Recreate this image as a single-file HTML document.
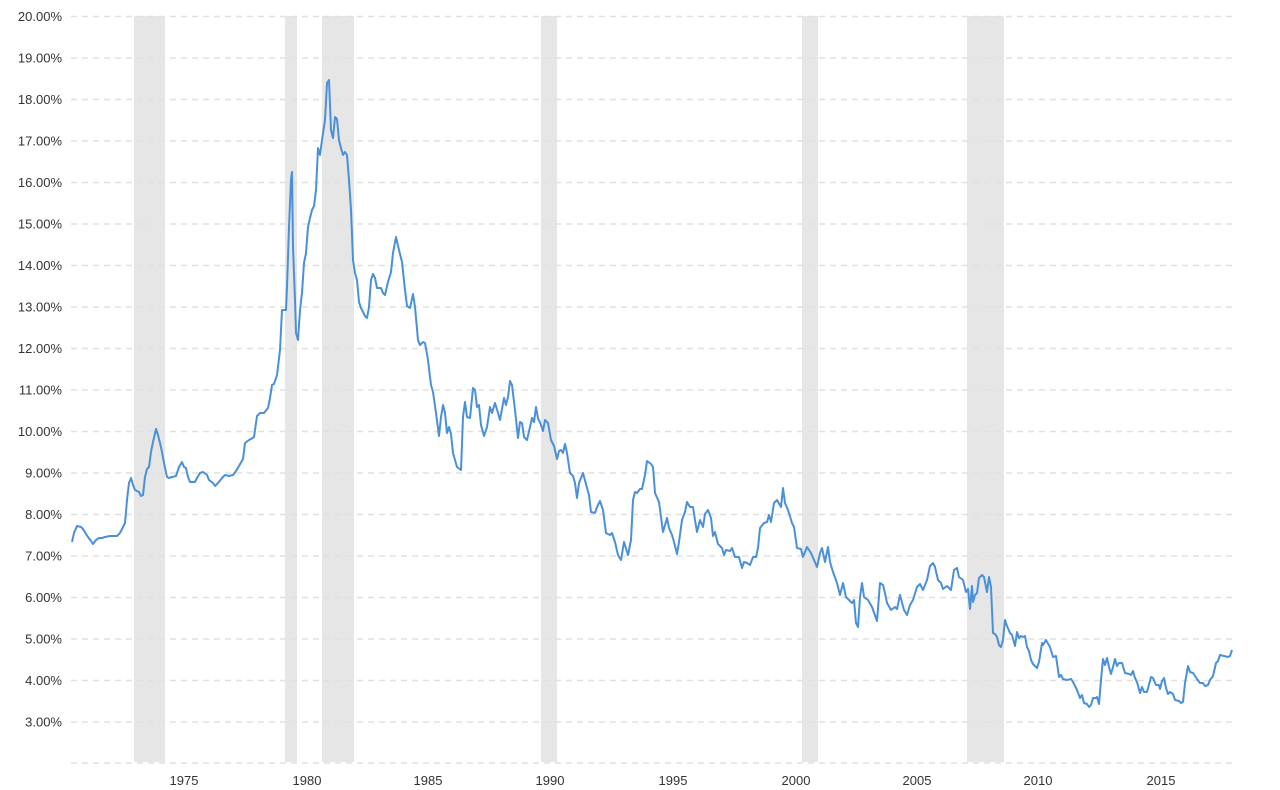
<!DOCTYPE html>
<html><head><meta charset="utf-8"><style>
body{margin:0;background:#fff;}
svg{display:block;font-family:"Liberation Sans",sans-serif;}
</style></head><body>
<svg width="1280" height="790" viewBox="0 0 1280 790">
<g fill="#e6e6e6">
<rect x="134" y="16" width="31" height="746"/>
<rect x="285" y="16" width="12" height="746"/>
<rect x="322" y="16" width="32" height="746"/>
<rect x="541" y="16" width="16" height="746"/>
<rect x="802" y="16" width="16" height="746"/>
<rect x="967" y="16" width="37" height="746"/>
</g>
<g stroke="#e0e0e0" stroke-width="1.5" stroke-dasharray="6,5">
<line x1="71" x2="1232" y1="16.5" y2="16.5"/><line x1="71" x2="1232" y1="58" y2="58"/><line x1="71" x2="1232" y1="99.5" y2="99.5"/><line x1="71" x2="1232" y1="141" y2="141"/><line x1="71" x2="1232" y1="182.5" y2="182.5"/><line x1="71" x2="1232" y1="224" y2="224"/><line x1="71" x2="1232" y1="265.5" y2="265.5"/><line x1="71" x2="1232" y1="307" y2="307"/><line x1="71" x2="1232" y1="348.5" y2="348.5"/><line x1="71" x2="1232" y1="390" y2="390"/><line x1="71" x2="1232" y1="431.5" y2="431.5"/><line x1="71" x2="1232" y1="473" y2="473"/><line x1="71" x2="1232" y1="514.5" y2="514.5"/><line x1="71" x2="1232" y1="556" y2="556"/><line x1="71" x2="1232" y1="597.5" y2="597.5"/><line x1="71" x2="1232" y1="639" y2="639"/><line x1="71" x2="1232" y1="680.5" y2="680.5"/><line x1="71" x2="1232" y1="722" y2="722"/><line x1="71" x2="1232" y1="763" y2="763"/>
</g>
<g fill="#333" font-size="13" text-anchor="end">
<text x="62" y="21">20.00%</text><text x="62" y="62.5">19.00%</text><text x="62" y="104">18.00%</text><text x="62" y="145.5">17.00%</text><text x="62" y="187">16.00%</text><text x="62" y="228.5">15.00%</text><text x="62" y="270">14.00%</text><text x="62" y="311.5">13.00%</text><text x="62" y="353">12.00%</text><text x="62" y="394.5">11.00%</text><text x="62" y="436">10.00%</text><text x="62" y="477.5">9.00%</text><text x="62" y="519">8.00%</text><text x="62" y="560.5">7.00%</text><text x="62" y="602">6.00%</text><text x="62" y="643.5">5.00%</text><text x="62" y="685">4.00%</text><text x="62" y="726.5">3.00%</text>
</g>
<g fill="#333" font-size="13" text-anchor="middle">
<text x="184" y="785">1975</text><text x="307" y="785">1980</text><text x="428" y="785">1985</text><text x="550" y="785">1990</text><text x="673" y="785">1995</text><text x="796" y="785">2000</text><text x="917" y="785">2005</text><text x="1038" y="785">2010</text><text x="1161" y="785">2015</text>
</g>
<polyline fill="none" stroke="#4a90d9" stroke-width="2" stroke-linejoin="round" points="72,542 74,533 77,526 81,527 83,529 86,534 88,537 91,541 93,544 96,540 99,538 102,538 105,537 110,536 113,536 117,536 120,533 123,527 125,523 127,500 129,483 131,478 133,485 135,490 139,492 141,496 143,495 145,477 147,469 149,467 151,452 153,442 156,429 158,435 160,443 162,452 164,463 167,477 169,478 172,477 176,476 179,467 182,462 184,467 186,468 188,477 190,482 195,482 197,478 200,473 203,472 207,475 209,480 213,483 215,486 218,483 222,478 225,475 229,476 233,475 236,471 239,466 243,459 245,443 249,440 251,439 254,437 256,423 257,416 260,413 264,413 268,408 270,398 272,385 274,384 277,375 280,350 282,310 286,310 287,287 289,227 291,180 292,172 293,247 295,300 296,333 298,340 300,310 302,293 304,263 306,253 308,227 310,218 312,210 314,206 316,190 318,148 320,155 322,140 325,120 327,83 329,80 331,130 333,138 335,117 337,119 339,140 341,148 343,155 345,152 347,155 349,180 351,210 353,260 355,273 357,280 359,302 361,308 365,316 367,318 369,307 371,280 373,274 375,278 377,288 381,288 383,293 385,295 388,282 391,272 393,253 396,237 399,250 402,262 405,290 407,306 410,308 413,294 415,307 418,340 420,345 423,342 425,343 428,360 431,385 433,392 436,413 439,436 441,417 443,405 445,413 447,433 449,427 451,434 453,453 457,467 461,470 463,417 465,402 467,417 470,418 473,388 475,390 477,407 479,405 481,425 484,436 487,427 490,407 492,413 495,403 498,413 500,420 504,398 506,405 508,397 510,381 512,385 515,410 518,438 520,422 522,423 524,437 527,440 530,427 532,418 534,422 536,407 538,418 541,425 543,431 545,420 548,423 551,440 554,446 557,459 559,451 561,450 563,453 565,444 567,453 570,473 573,476 575,483 577,498 579,483 583,473 587,488 589,495 591,512 595,513 597,507 600,501 603,510 606,533 610,535 612,533 615,542 618,555 621,560 624,542 628,555 631,540 633,500 635,492 637,493 640,489 642,489 645,475 647,461 651,464 653,467 655,493 659,502 663,532 667,518 669,528 672,535 674,542 677,554 679,542 682,520 685,512 687,502 690,507 693,507 695,520 697,532 700,520 703,527 705,514 708,510 711,518 713,536 715,532 718,544 722,548 724,555 726,550 730,551 732,548 735,557 739,557 742,568 744,562 747,563 750,565 753,557 756,557 758,548 760,528 764,523 767,522 769,515 771,522 774,503 777,500 781,507 783,488 785,503 788,510 792,523 794,527 797,548 801,549 803,557 807,547 811,553 817,567 820,553 822,548 825,562 828,547 830,562 833,572 837,583 840,595 843,583 846,597 849,600 852,603 854,600 856,623 858,627 860,597 862,583 864,597 868,600 872,607 877,621 880,583 883,585 885,593 887,603 891,610 895,607 897,609 900,595 904,610 907,615 910,605 913,600 917,587 920,584 923,590 927,580 930,566 933,563 935,567 938,580 941,583 943,589 947,586 951,590 954,570 957,568 959,577 963,580 966,592 968,589 970,609 972,586 973,602 975,595 977,593 979,578 982,575 984,577 987,592 989,577 991,587 993,633 995,634 997,637 999,645 1001,647 1003,640 1005,620 1007,626 1010,633 1012,635 1015,646 1017,632 1019,638 1021,636 1023,637 1025,636 1027,647 1029,651 1031,660 1033,664 1037,668 1039,662 1042,643 1043,645 1046,640 1047,642 1050,647 1053,657 1056,656 1059,677 1061,675 1063,679 1067,680 1071,679 1073,682 1077,690 1080,698 1082,695 1084,703 1087,704 1089,707 1091,705 1093,698 1096,698 1097,697 1099,704 1101,680 1103,659 1105,665 1107,658 1109,667 1111,674 1113,667 1115,659 1117,666 1119,663 1122,663 1125,673 1129,674 1131,675 1133,671 1135,678 1137,682 1140,693 1142,687 1144,692 1147,692 1151,677 1153,678 1156,685 1159,685 1160,689 1162,681 1164,678 1166,688 1168,694 1170,692 1173,694 1175,700 1179,701 1181,703 1183,702 1185,683 1188,666 1190,672 1193,673 1197,679 1200,683 1203,683 1205,686 1208,685 1210,680 1213,676 1216,663 1218,661 1220,655 1224,656 1228,657 1230,656 1232,650"/>
</svg>
</body></html>
